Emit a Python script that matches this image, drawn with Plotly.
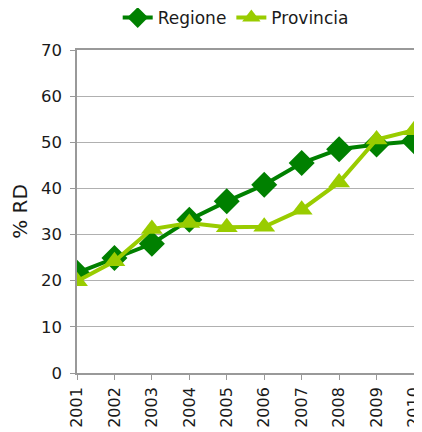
import plotly.graph_objects as go

years = ["2001", "2002", "2003", "2004", "2005", "2006", "2007", "2008", "2009", "2010"]
regione = [21.7, 24.9, 28.0, 33.2, 37.2, 40.8, 45.5, 48.5, 49.5, 50.2]
provincia = [19.9, 24.2, 31.2, 32.5, 31.6, 31.7, 35.4, 41.3, 50.6, 52.6]
y_ticks = [0, 10, 20, 30, 40, 50, 60, 70]

fig = go.Figure()
fig.add_trace(go.Scatter(
    x=years, y=regione, name="Regione", mode="lines+markers",
    line=dict(color="#008000", width=4),
    marker=dict(symbol="diamond", size=20, color="#008000"),
))
fig.add_trace(go.Scatter(
    x=years, y=provincia, name="Provincia", mode="lines+markers",
    line=dict(color="#99CC00", width=4),
    marker=dict(symbol="triangle-up", size=19, color="#99CC00"),
))

# page body has an 8px default margin, so the figure is sized/offset to compensate
fig.update_layout(
    width=414, height=424,
    margin=dict(l=69, r=8, t=42, b=59, autoexpand=False),
    paper_bgcolor="white", plot_bgcolor="white",
    font=dict(family="DejaVu Sans", size=17, color="#1a1a1a"),
    showlegend=True,
    legend=dict(orientation="h", xref="container", x=0.55, xanchor="center",
                yref="paper", y=1.099, yanchor="middle",
                font=dict(size=17), traceorder="normal"),
    xaxis=dict(
        type="category", range=[0, 9], tickangle=-90, automargin=False,
        tickfont=dict(size=16),
        showline=True, linecolor="#999999", linewidth=1.5, mirror=True,
        ticks="outside", ticklen=5, tickcolor="#999999", ticklabelstandoff=1,
        showgrid=False, zeroline=False,
    ),
    yaxis=dict(
        range=[0, 70], tickvals=y_ticks, automargin=False,
        tickfont=dict(size=16.5),
        title=dict(text="% RD", standoff=10),
        showline=True, linecolor="#999999", linewidth=1.5, mirror=True,
        ticks="outside", ticklen=5, tickcolor="#999999", ticklabelstandoff=5,
        showgrid=True, gridcolor="#b0b0b0", gridwidth=1, zeroline=False,
    ),
)
fig.write_html("out.html")
